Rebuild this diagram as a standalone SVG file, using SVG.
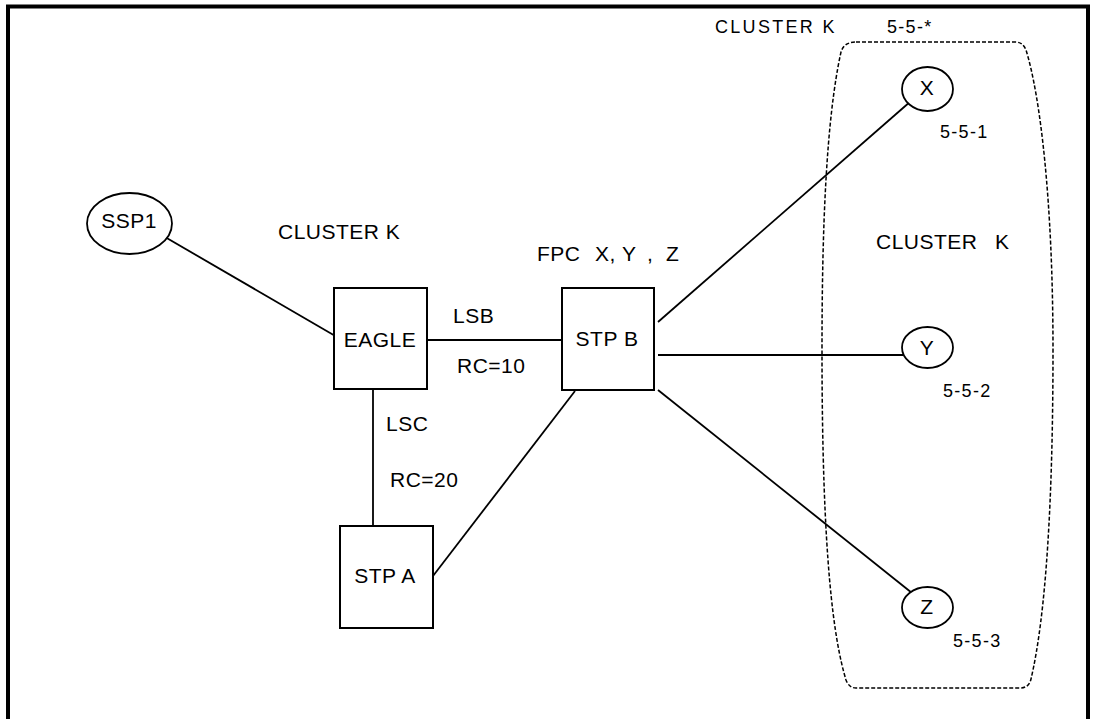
<svg xmlns="http://www.w3.org/2000/svg" width="1094" height="719" viewBox="0 0 1094 719">
<style>
text{font-family:"Liberation Sans",Arial,sans-serif;fill:#000}
.lbl{font-size:21px;letter-spacing:0.5px}
.sm{font-size:18px;letter-spacing:1.3px}
.box{fill:#fff;stroke:#000;stroke-width:2}
.ell{fill:#fff;stroke:#000;stroke-width:1.8}
.ln{stroke:#000;stroke-width:1.8;fill:none}
</style>
<rect width="1094" height="719" fill="#fff"/>
<path d="M8,719 V6.5 H1088 V719" fill="none" stroke="#000" stroke-width="4"/>
<g id="cluster-region">
<path d="M856,42 L1015,42 Q1023,42 1026,50 C1040,95 1053,200 1053,350 C1053,500 1046,615 1031,679 Q1029,688 1020,688 L856,688 Q849,688 846,680 C834,640 822,560 822,350 C822,230 826,120 841,52 Q844,42 856,42 Z" fill="none" stroke="#000" stroke-width="1.5" stroke-dasharray="4,2"/>
<text class="sm" x="715" y="33" style="letter-spacing:2.3px">CLUSTER K</text>
<text class="sm" x="887" y="33">5-5-*</text>
<text class="lbl" x="876" y="249">CLUSTER<tspan x="995">K</tspan></text>
</g>
<g id="connectors">
<line class="ln" x1="165" y1="237" x2="337" y2="337"/>
<line class="ln" x1="427" y1="340" x2="562" y2="340"/>
<line class="ln" x1="373" y1="389" x2="373" y2="526"/>
<line class="ln" x1="433" y1="576" x2="575" y2="391"/>
<line class="ln" x1="658" y1="322" x2="911" y2="101"/>
<line class="ln" x1="658" y1="355" x2="903" y2="355"/>
<line class="ln" x1="658" y1="390" x2="912" y2="593"/>
<text class="lbl" x="453" y="323">LSB</text>
<text class="lbl" x="457" y="373">RC=10</text>
<text class="lbl" x="386" y="431">LSC</text>
<text class="lbl" x="390" y="487">RC=20</text>
</g>
<g id="ssp1">
<ellipse class="ell" cx="129.5" cy="223.5" rx="42.5" ry="30.5"/>
<text class="lbl" x="129" y="228" text-anchor="middle">SSP1</text>
</g>
<text class="lbl" x="278" y="239">CLUSTER K</text>
<g id="eagle">
<rect class="box" x="334" y="288" width="93" height="101"/>
<text class="lbl" x="380" y="347" text-anchor="middle">EAGLE</text>
</g>
<g id="stpb">
<rect class="box" x="562" y="288" width="92" height="102"/>
<text class="lbl" x="607" y="346" text-anchor="middle">STP B</text>
</g>
<text class="lbl" x="537" y="261">FPC<tspan x="595">X,</tspan><tspan x="622">Y</tspan><tspan x="647">,</tspan><tspan x="666">Z</tspan></text>
<g id="stpa">
<rect class="box" x="340" y="526" width="93" height="102"/>
<text class="lbl" x="385" y="583" text-anchor="middle">STP A</text>
</g>
<g id="x">
<ellipse class="ell" cx="927.5" cy="89" rx="25.5" ry="22"/>
<text class="lbl" x="927" y="95" text-anchor="middle">X</text>
<text class="sm" x="940" y="138">5-5-1</text>
</g>
<g id="y">
<ellipse class="ell" cx="927.5" cy="347.5" rx="25.5" ry="20.5"/>
<text class="lbl" x="927" y="355" text-anchor="middle">Y</text>
<text class="sm" x="943" y="397">5-5-2</text>
</g>
<g id="z">
<ellipse class="ell" cx="927.5" cy="607.5" rx="25.5" ry="20.5"/>
<text class="lbl" x="927" y="614" text-anchor="middle">Z</text>
<text class="sm" x="953" y="647">5-5-3</text>
</g>
</svg>
